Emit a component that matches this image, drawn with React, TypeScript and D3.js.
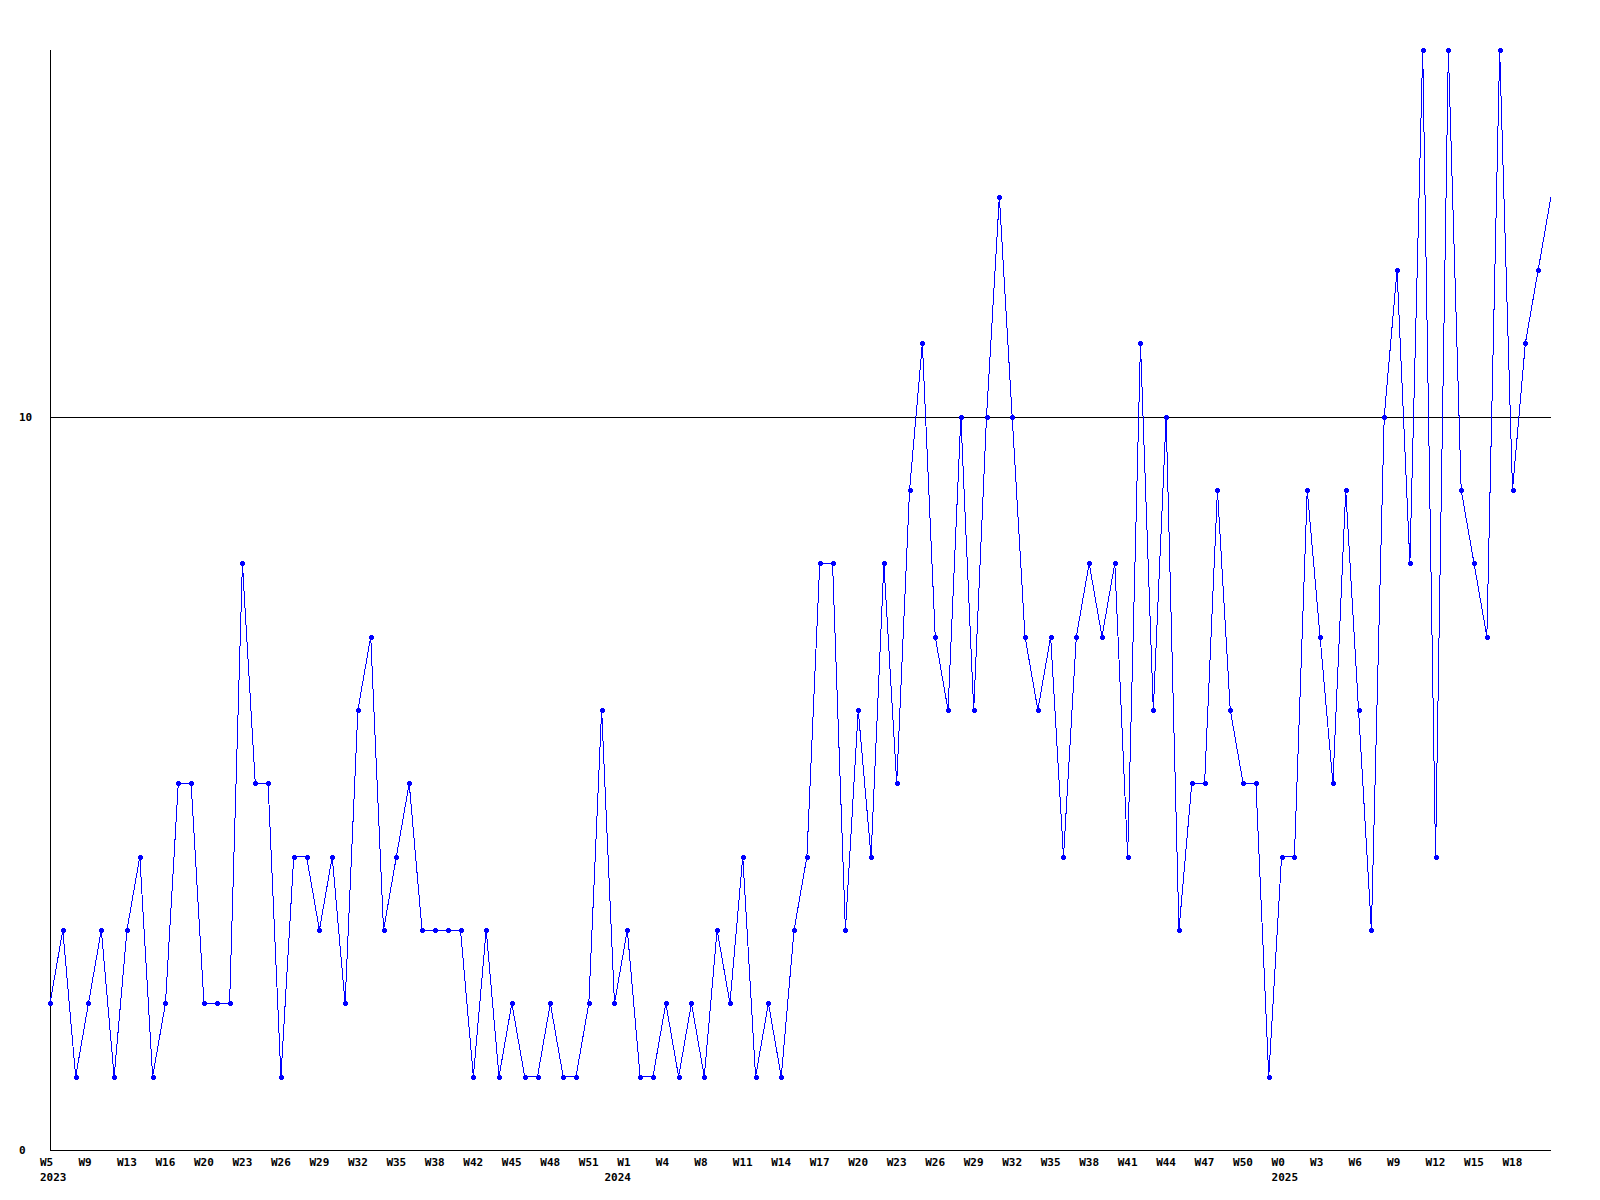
import React, { useEffect, useRef } from "react";
import * as d3 from "d3";

const values: number[] = [
  2, 3, 1, 2, 3, 1, 3, 4, 1, 2,
  5, 5, 2, 2, 2, 8, 5, 5, 1, 4,
  4, 3, 4, 2, 6, 7, 3, 4, 5, 3,
  3, 3, 3, 1, 3, 1, 2, 1, 1, 2,
  1, 1, 2, 6, 2, 3, 1, 1, 2, 1,
  2, 1, 3, 2, 4, 1, 2, 1, 3, 4,
  8, 8, 3, 6, 4, 8, 5, 9, 11, 7,
  6, 10, 6, 10, 13, 10, 7, 6, 7, 4,
  7, 8, 7, 8, 4, 11, 6, 10, 3, 5,
  5, 9, 6, 5, 5, 1, 4, 4, 9, 7,
  5, 9, 6, 3, 10, 12, 8, 15, 4, 15,
  9, 8, 7, 15, 9, 11, 12, 13,
];

const weekLabels: string[] = [
  "W5", "W9", "W13", "W16", "W20", "W23", "W26", "W29", "W32", "W35",
  "W38", "W42", "W45", "W48", "W51", "W1", "W4", "W8", "W11", "W14",
  "W17", "W20", "W23", "W26", "W29", "W32", "W35", "W38", "W41", "W44",
  "W47", "W50", "W0", "W3", "W6", "W9", "W12", "W15", "W18",
];
const labelEvery = 3;

const yearLabels: string[] = ["2023", "2024", "2025"];
const yearIndices: number[] = [0, 44, 96];

const yTicks: number[] = [0, 10];
const yMax = 15;

const W = 1600;
const H = 1200;
const left = 50;
const right = 1551;
const top = 50;
const bottom = 1150;

export default function App() {
  const ref = useRef<SVGSVGElement>(null);

  useEffect(() => {
    document.body.style.margin = "0";
    const svg = d3.select(ref.current);
    svg.selectAll("*").remove();

    const x = d3.scaleLinear().domain([0, values.length - 1]).range([left, right]);
    const y = d3.scaleLinear().domain([0, yMax]).range([bottom, top]);

    const font = "'DejaVu Sans Mono', monospace";

    // axes
    svg.append("line")
      .attr("x1", left + 0.5).attr("x2", left + 0.5)
      .attr("y1", top).attr("y2", bottom + 0.5)
      .attr("stroke", "#000").attr("stroke-width", 1)
      .attr("shape-rendering", "crispEdges");
    svg.append("line")
      .attr("x1", left).attr("x2", right)
      .attr("y1", bottom + 0.5).attr("y2", bottom + 0.5)
      .attr("stroke", "#000").attr("stroke-width", 1)
      .attr("shape-rendering", "crispEdges");

    // y ticks / grid line
    yTicks.forEach((t) => {
      if (t > 0) {
        svg.append("line")
          .attr("x1", left).attr("x2", right)
          .attr("y1", Math.round(y(t)) + 0.5).attr("y2", Math.round(y(t)) + 0.5)
          .attr("stroke", "#000").attr("stroke-width", 1)
          .attr("shape-rendering", "crispEdges");
      }
      svg.append("text")
        .attr("x", 19).attr("y", y(t) + 4)
        .attr("font-family", font).attr("font-weight", "bold")
        .attr("font-size", 11).attr("fill", "#000")
        .text(String(t));
    });

    // x labels
    weekLabels.forEach((lab, k) => {
      svg.append("text")
        .attr("x", x(k * labelEvery) - 10).attr("y", 1166)
        .attr("font-family", font).attr("font-weight", "bold")
        .attr("font-size", 11).attr("fill", "#000")
        .text(lab);
    });
    yearLabels.forEach((lab, k) => {
      svg.append("text")
        .attr("x", x(yearIndices[k]) - 10).attr("y", 1181)
        .attr("font-family", font).attr("font-weight", "bold")
        .attr("font-size", 11).attr("fill", "#000")
        .text(lab);
    });

    // line
    const line = d3.line<number>()
      .x((_, i) => x(i))
      .y((d) => y(d));
    svg.append("path")
      .datum(values)
      .attr("d", line)
      .attr("fill", "none")
      .attr("stroke", "#0000ff")
      .attr("stroke-width", 1)
      .attr("shape-rendering", "crispEdges");

    // markers: small plus/diamond
    const g = svg.append("g").attr("fill", "#0000ff");
    values.slice(0, values.length - 1).forEach((d, i) => {
      const cx = Math.round(x(i));
      const cy = Math.round(y(d));
      g.append("rect").attr("x", cx - 2).attr("y", cy - 1).attr("width", 5).attr("height", 3)
        .attr("shape-rendering", "crispEdges");
      g.append("rect").attr("x", cx - 1).attr("y", cy - 2).attr("width", 3).attr("height", 5)
        .attr("shape-rendering", "crispEdges");
    });
  }, []);

  return (
    <svg
      ref={ref}
      width={W}
      height={H}
      style={{ position: "absolute", left: 0, top: 0, background: "#fff" }}
    />
  );
}
